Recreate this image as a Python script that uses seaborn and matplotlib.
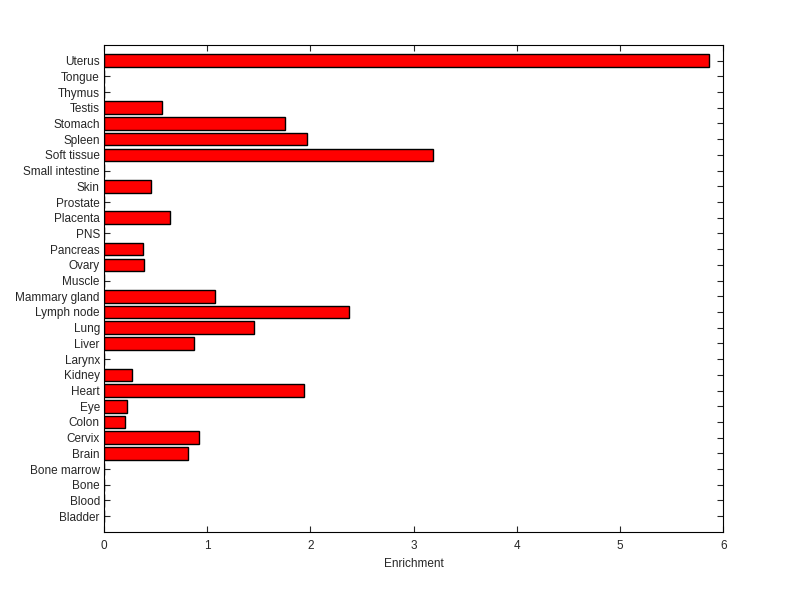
import matplotlib
matplotlib.use("Agg")
import matplotlib.pyplot as plt
import seaborn as sns
import pandas as pd

# tissues listed top to bottom as in the chart
tissues = ["Uterus", "Tongue", "Thymus", "Testis", "Stomach", "Spleen", "Soft tissue",
           "Small intestine", "Skin", "Prostate", "Placenta", "PNS", "Pancreas", "Ovary",
           "Muscle", "Mammary gland", "Lymph node", "Lung", "Liver", "Larynx", "Kidney",
           "Heart", "Eye", "Colon", "Cervix", "Brain", "Bone marrow", "Bone", "Blood", "Bladder"]
enrichment = [5.86, 0, 0, 0.56, 1.75, 1.97, 3.19,
              0, 0.46, 0, 0.635, 0, 0.38, 0.39,
              0, 1.08, 2.37, 1.45, 0.87, 0, 0.275,
              1.935, 0.227, 0.207, 0.916, 0.81, 0, 0, 0, 0]
xticks = [0, 1, 2, 3, 4, 5, 6]

df = pd.DataFrame({"Tissue": tissues, "Enrichment": enrichment})

sns.set_style("ticks")
plt.rcParams["font.family"] = ["Liberation Sans", "DejaVu Sans"]

fig = plt.figure(figsize=(8, 5.99), dpi=100)
ax = fig.add_axes([0.13, 0.112, 0.774, 0.813])

sns.barplot(data=df, x="Enrichment", y="Tissue", orient="h", color="#ff0000",
            saturation=1, edgecolor="black", linewidth=1.0, width=0.8, ax=ax)

ax.set_xlim(0, 6)
ax.set_ylim(len(tissues), -1)
ax.set_xticks(xticks)
ax.set_xlabel("Enrichment", fontsize=8.5, labelpad=4)
ax.set_ylabel("")
ax.tick_params(direction="in", length=4.5, width=0.8, labelsize=8.5,
               top=True, right=True, pad=3)
ax.tick_params(axis="x", pad=6)
for s in ax.spines.values():
    s.set_visible(True)
    s.set_linewidth(0.8)
    s.set_color("black")

fig.savefig("out.png", dpi=100)
